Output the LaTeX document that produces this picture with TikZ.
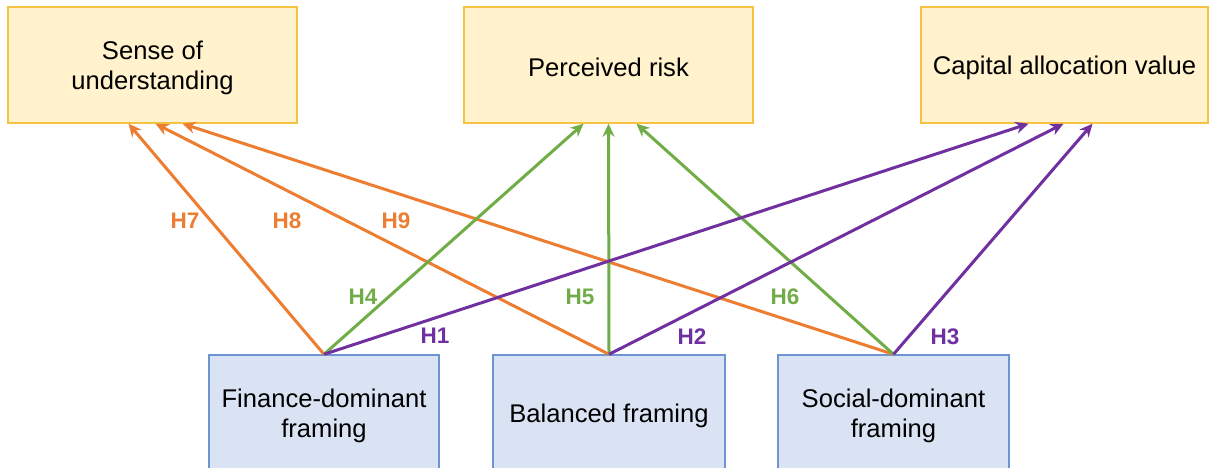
\documentclass[tikz,border=0pt]{standalone}
\usepackage{fontspec}
\setmainfont{Liberation Sans}
\usetikzlibrary{arrows.meta}
\definecolor{cor}{HTML}{ED7D31}
\definecolor{cgr}{HTML}{70AD47}
\definecolor{cpu}{HTML}{7030A0}
\definecolor{yfill}{HTML}{FFF2CC}
\definecolor{ydraw}{HTML}{F5C242}
\definecolor{bfill}{HTML}{DAE3F3}
\definecolor{bdraw}{HTML}{6F94D2}
\tikzset{
  outbox/.style={draw=ydraw, fill=yfill, line width=1.4pt, minimum height=116pt, align=center, inner sep=0pt,
    font=\fontsize{25.6}{30}\selectfont},
  inbox/.style={draw=bdraw, fill=bfill, line width=1.4pt, minimum height=116pt, align=center, inner sep=0pt,
    font=\fontsize{25.6}{30}\selectfont},
  link/.style={line width=3pt, -{Stealth[length=13pt,width=12pt]}},
  hlab/.style={font=\fontsize{22.5}{24}\selectfont\bfseries, inner sep=0pt}
}
\begin{document}
\begin{tikzpicture}[x=1pt,y=-1pt]
\useasboundingbox (0,0) rectangle (1209,467);
\node[outbox, minimum width=289pt] (sense) at (152.5,65) {\rule{0pt}{24pt}Sense of\\understanding};
\node[outbox, minimum width=289pt] (risk) at (608.5,65) {\rule{0pt}{24pt}Perceived risk};
\node[outbox, minimum width=287pt] (cap) at (1064.5,65) {\rule{0pt}{24pt}Capital allocation value};
\node[inbox, minimum width=230pt] (fin) at (324,413) {\rule{0pt}{24pt}Finance-dominant\\framing};
\node[inbox, minimum width=232pt] (bal) at (609,413) {\rule{0pt}{24pt}Balanced framing};
\node[inbox, minimum width=231pt] (soc) at (893.5,413) {\rule{0pt}{24pt}Social-dominant\\framing};

\draw[link, cor] (fin.north) -- ([xshift=-24pt]sense.south);
\draw[link, cor] (bal.north) -- ([xshift=3pt]sense.south);
\draw[link, cor] (soc.north) -- ([xshift=30pt]sense.south);
\draw[link, cgr] (fin.north) -- ([xshift=-25pt]risk.south);
\draw[link, cgr] (bal.north) -- (risk.south);
\draw[link, cgr] (soc.north) -- ([xshift=28pt]risk.south);
\draw[link, cpu] (fin.north) -- ([xshift=-36pt]cap.south);
\draw[link, cpu] (bal.north) -- ([xshift=-1pt]cap.south);
\draw[link, cpu] (soc.north) -- ([xshift=28pt]cap.south);

\node[hlab, text=cor] (h7) at (185,221) {H7};
\node[hlab, text=cor] (h8) at (287,221) {H8};
\node[hlab, text=cor] (h9) at (396,221) {H9};
\node[hlab, text=cgr] (h4) at (363,297) {H4};
\node[hlab, text=cgr] (h5) at (580,297) {H5};
\node[hlab, text=cgr] (h6) at (785,297) {H6};
\node[hlab, text=cpu] (h1) at (435,336) {H1};
\node[hlab, text=cpu] (h2) at (692,337) {H2};
\node[hlab, text=cpu] (h3) at (945,337) {H3};
\end{tikzpicture}
\end{document}
